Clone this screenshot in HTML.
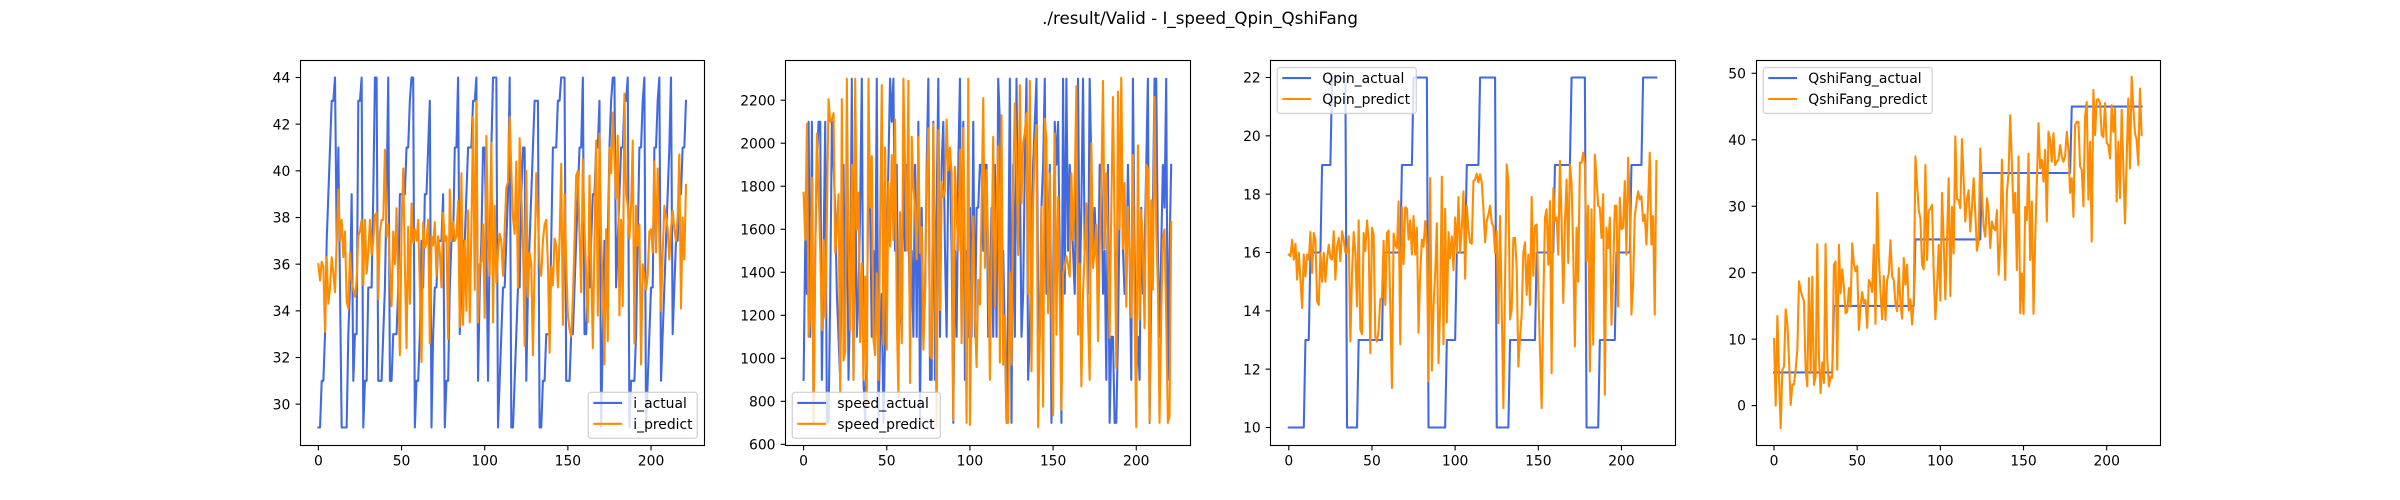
<!DOCTYPE html>
<html>
<head>
<meta charset="utf-8">
<title>./result/Valid - I_speed_Qpin_QshiFang</title>
<style>
html,body{margin:0;padding:0;background:#fff;}
svg{display:block;}
text{font-family:"DejaVu Sans","Liberation Sans",sans-serif;fill:#000;}
</style>
</head>
<body>
<svg id="figure" xmlns="http://www.w3.org/2000/svg" width="2400" height="500" viewBox="0 0 2400 500">
<rect x="0" y="0" width="2400" height="500" fill="#ffffff"/>
<text x="1200" y="24" font-size="16.67" text-anchor="middle">./result/Valid - I_speed_Qpin_QshiFang</text>
</svg>
<script>
const xTicks = [0, 50, 100, 150, 200];
const iTicks = [30, 32, 34, 36, 38, 40, 42, 44];
const speedTicks = [600, 800, 1000, 1200, 1400, 1600, 1800, 2000, 2200];
const qpinTicks = [10, 12, 14, 16, 18, 20, 22];
const qshiTicks = [0, 10, 20, 30, 40, 50];

const iActual = [
29,29,31,31,33,37,39,41,43,43,
44,37,41,35,29,29,29,29,33,35,
39,31,33,33,43,43,44,29,31,31,
35,35,35,39,44,44,31,31,31,33,
35,39,44,31,31,33,33,33,35,39,
39,39,39,41,41,43,44,44,29,31,
31,33,37,35,39,39,41,43,29,33,
35,35,37,37,37,39,29,31,31,35,
37,37,41,41,44,33,35,37,37,39,
41,41,41,43,43,44,31,35,37,41,
41,37,31,37,41,44,44,44,29,31,
33,35,35,37,39,44,29,29,31,33,
35,35,39,41,41,31,35,37,39,41,
43,43,43,29,29,31,31,33,33,33,
37,41,41,41,43,43,44,44,44,31,
31,31,33,33,35,37,39,41,41,44,
33,33,35,35,37,39,39,41,41,43,
29,33,37,35,37,41,43,44,44,35,
37,39,41,41,43,43,44,29,31,31,
31,33,37,41,41,43,44,29,31,33,
35,35,41,41,43,44,31,33,35,37,
39,41,44,33,35,37,37,39,39,41,
41,43];
const iPredict = [
36,35.3,36.1,35.9,33.1,36.3,34.3,35,36.3,35.6,
34.8,37,39.2,37,37.9,36.3,37.4,34.4,34.1,36.5,
35.3,34.9,34.6,35.3,37.2,37.4,37.9,35.1,37.9,35.6,
36.5,37.9,36.4,37,38.1,38.2,34.5,37.4,37.9,37.9,
40.9,37.2,37.7,35.8,34.2,37.4,36,38.4,35,32.1,
37.5,40.1,36,32.4,37.6,34.3,38.6,36.9,37.5,37,
37.9,35,31.8,37.8,36.7,36.9,37.9,32.6,37.2,36.8,
37.8,35.5,37.2,36.5,35,38.2,37,37.2,32.8,39.2,
37,37.8,37,37.2,38.7,33.3,39.9,33.4,37,34,
38.3,33.5,37.5,42.3,34.9,43,33.5,36,36.1,37.7,
33.7,41.5,37.5,35.5,41.2,33.5,38.5,35.2,36.5,37.3,
37,35.5,37.5,39.3,39.5,42.3,40,38,37.3,40.4,
35,41.4,39,37,32.5,40,34.6,36.5,36,32.1,
36,39.9,38,36,35.5,37,37.7,37.9,36,32.2,
35.9,35.1,37.1,36.8,35,37,40.3,33.4,39,36,
33.8,33.2,32.9,34.5,37,39.8,40,37.3,34.8,40.5,
37.5,35.5,33.5,39.8,36,32.4,37,41.3,33.8,41.6,
37,35,31.7,37.5,32.7,41,39.9,42.5,40.5,38.8,
41.5,33.8,37.9,34.2,43.3,39,38.5,37.1,38.5,41.3,
32.6,38.5,36.8,37.7,31.7,36,35.5,34.9,35.5,37.4,
37.5,36.5,40.4,36.5,40.1,37,34,36.5,38.5,38,
37.5,36.2,37.5,38.3,37.5,37,38,40.7,34.1,38,
36.2,39.4];

const speedActual = [
900,1550,1300,2100,1100,2100,700,1500,1900,2100,
2100,900,1500,2100,700,700,1300,2100,1900,1700,
1300,1100,900,1500,1900,1100,1900,900,1300,2300,
900,1900,1100,1300,1700,2300,900,700,1100,1900,
1700,1100,1500,1100,2300,700,1100,1300,700,1100,
1500,1900,2300,2100,2300,1500,1900,1100,1300,1100,
1900,1500,1900,1700,1100,1500,1100,1900,1100,2100,
700,1700,1100,1300,1900,2300,900,900,2100,900,
1700,2300,1100,1900,2100,1500,1100,1900,1900,1500,
700,1500,1100,1900,2300,1100,2100,900,1500,1100,
1700,1100,2100,1100,1700,1700,1900,1900,1500,1900,
1900,1100,1300,1700,1100,1900,1100,2300,2100,1500,
1500,1100,700,1300,2300,700,1900,1100,2300,1500,
1900,1100,1300,1900,2300,900,1100,1500,1900,2100,
2300,1300,1100,1700,1900,2300,1300,1500,1900,700,
1300,2100,1900,2100,1500,700,2300,1300,2300,1500,
1900,1700,1500,1300,1900,2300,1300,1700,2300,1500,
1700,1300,2300,1900,1500,1700,1500,1300,1900,1900,
1300,1500,900,1900,700,1100,1100,700,700,1100,
1700,2100,1500,1300,1300,1900,1500,900,2300,1500,
900,1100,900,1700,1300,1500,1900,2300,700,1300,
1700,2300,2300,1500,1100,1500,1900,1700,2300,900,
1500,1900];
const speedPredict = [
1770,1550,2090,1100,1200,1840,713,1500,2045,1800,
1500,1130,1550,1190,1650,2205,2100,2110,2140,1490,
1600,1763,840,2205,990,1030,2300,1500,1130,1900,
900,2300,1600,1770,1075,1440,900,1380,780,2300,
1700,1940,1085,1015,1395,900,1600,2270,1065,1980,
1040,1820,1520,1945,1550,2110,1200,820,1680,1070,
2300,1890,1500,2290,885,2030,1800,1700,1460,2030,
1490,1610,1040,1300,1800,2070,1015,1000,2090,1400,
680,2060,1225,1820,1750,1780,2110,1875,1980,1860,
713,1890,1670,1500,1970,1070,2070,1500,700,2300,
690,1300,1660,1200,960,1365,1250,1700,2210,1420,
1875,1500,900,1500,2030,1240,1700,1985,980,2130,
970,1200,700,700,1400,970,1800,2185,1900,1480,
2270,1720,2000,2050,2140,1300,2290,940,1705,1985,
2085,680,1100,1705,775,2115,2015,1210,1860,1300,
735,2045,1110,1750,1300,760,1395,1430,1475,1430,
1380,1860,1550,1800,2265,1110,1440,870,1300,1500,
1720,1200,900,2000,1420,1500,1620,1080,1500,1800,
2290,1510,1860,1500,1095,1700,2215,1600,955,2240,
1600,2305,1510,1815,1240,1705,1500,1190,1945,1200,
680,1990,1180,1690,1500,1140,1900,1880,705,1735,
1320,2215,1600,1320,700,1200,1550,1600,1200,700,
730,1635];

const qpinActual = [
10,10,10,10,10,10,10,10,10,10,
13,13,13,16,16,16,16,16,16,16,
19,19,19,19,19,19,22,22,22,22,
22,22,22,22,22,10,10,10,10,10,
10,10,13,13,13,13,13,13,13,13,
13,13,13,13,13,13,13,16,16,16,
16,16,16,16,16,16,16,16,19,19,
19,19,19,19,19,22,22,22,22,22,
22,22,22,22,10,10,10,10,10,10,
10,10,10,10,10,13,13,13,13,13,
13,16,16,16,16,16,16,19,19,19,
19,19,19,19,19,22,22,22,22,22,
22,22,22,22,22,10,10,10,10,10,
10,10,10,13,13,13,13,13,13,13,
13,13,13,13,13,13,13,13,13,16,
16,16,16,16,16,16,16,16,16,16,
19,19,19,19,19,19,19,19,19,19,
22,22,22,22,22,22,22,22,22,10,
10,10,10,10,10,10,10,13,13,13,
13,13,13,13,13,13,13,16,16,16,
16,16,16,16,16,16,19,19,19,19,
19,19,19,22,22,22,22,22,22,22,
22,22];
const qpinPredict = [
15.93,15.87,16.44,15.76,16.3,15.07,15.99,15.07,14.1,15.93,
15.18,15.93,15.76,16.7,15.3,16.67,16.44,14.33,14.2,15.99,
15,15.99,15,15.76,16.27,15.81,15.76,16.73,15.07,16.2,
16.5,15.7,16.73,16.44,15.99,15.99,16.55,12.95,15.3,16.7,
15.99,14.15,17.1,13.35,13.2,16.67,16.05,17.1,16.44,12.55,
16.85,16.6,13.1,12.95,13.35,14.4,14.45,16.4,14.2,16.67,
16.75,14.15,11.35,16.65,16.27,16.15,17.75,12.85,17.55,15.6,
17.55,17.5,16.44,17.1,15.93,17.25,15.93,16.85,13.25,15.3,
16.44,16.2,17.08,16.27,11.6,18.55,11.95,14.15,15.3,17,
12.2,14.15,18.6,12.85,17.5,13.6,16.7,15.8,16.55,15.4,
17.2,15.99,17.9,15.99,16.85,18.1,15.1,17.6,16.8,16.35,
16.3,18.45,18.5,18.7,18.4,18.68,18.4,17.5,16.35,17.08,
17.3,17.6,17.02,16.9,16,16.73,13.58,17.25,14.15,10.66,
15,19.02,18.4,13.7,14.04,16.5,16.5,15.5,12.09,13.1,
13.87,15.99,16.35,14.55,15.93,14.2,17.9,15.2,16.9,16.96,
14.73,12.66,10.66,14.27,17.2,17.48,15.58,17.76,11.86,18.2,
17.08,17.2,15.93,19.14,17.08,14.27,17.02,18.5,15.64,19.02,
18.4,15.99,12.78,16.85,15,19.08,19.08,19.42,19.02,15.7,
17.6,11.92,17.48,12.84,19.36,18.5,17.6,17.54,16.5,18,
11.12,16.85,16.15,17.2,13.52,15.3,17.6,17.6,14.15,17.88,
16.8,16.85,18.45,15.93,19.25,17.6,13.87,14.96,17.25,17.7,
18.1,17.82,17.93,17.08,17.3,16.27,17.7,19.42,16.27,17.25,
13.87,19.14];

const qshiActual = [
5,5,5,5,5,5,5,5,5,5,
5,5,5,5,5,5,5,5,5,5,
5,5,5,5,5,5,5,5,5,5,
5,5,5,5,5,5,15,15,15,15,
15,15,15,15,15,15,15,15,15,15,
15,15,15,15,15,15,15,15,15,15,
15,15,15,15,15,15,15,15,15,15,
15,15,15,15,15,15,15,15,15,15,
15,15,15,15,15,25,25,25,25,25,
25,25,25,25,25,25,25,25,25,25,
25,25,25,25,25,25,25,25,25,25,
25,25,25,25,25,25,25,25,25,25,
25,25,25,25,25,35,35,35,35,35,
35,35,35,35,35,35,35,35,35,35,
35,35,35,35,35,35,35,35,35,35,
35,35,35,35,35,35,35,35,35,35,
35,35,35,35,35,35,35,35,35,35,
35,35,35,35,35,35,35,35,35,45,
45,45,45,45,45,45,45,45,45,45,
45,45,45,45,45,45,45,45,45,45,
45,45,45,45,45,45,45,45,45,45,
45,45,45,45,45,45,45,45,45,45,
45,45];
const qshiPredict = [
10,0,13.5,4.4,-3.4,5.4,5.9,14.5,12.4,6.9,
0.1,3.2,3.2,5.4,8.4,18.7,17.4,16.4,15.7,5.4,
2.9,19.2,4.9,19.4,3.1,4.4,24.3,7.4,1.9,6.5,
3.4,24.3,6.9,2.9,4.4,4.2,21.2,21.7,5.4,24.2,
16.9,20.5,17.9,13.9,14.1,17.7,14.9,24.4,21.4,20.2,
21,11.4,14.9,17.1,15.4,15.9,11.7,18.9,18.4,17.1,
24.2,12.3,32,22.4,17.1,13,19.5,12.9,18.9,19.9,
24.9,19.4,18.9,15.4,14.2,20.7,15.4,13.1,22.2,18.2,
21.2,14.3,16,12.2,16,37.5,33.4,29.4,28.2,21.2,
20.5,36.2,21.9,29.3,29.6,30.2,19.9,13,17.7,24.2,
15.8,32,24.9,16,24.9,34.2,16.5,29.9,22.9,40.5,
31.05,30.95,29.7,40.1,34,27.7,31,32.4,26.2,29.95,
34.2,29,23.3,24.9,38.7,32,26.9,25.4,31.2,29.4,
23.7,27.7,26.7,26.4,29.4,19.7,24.9,37,27.4,18.9,
32,35,43.7,36.5,29,32,20.4,37.5,13.9,19.9,
13.8,29.9,27.9,37.9,21.9,30.7,13.8,24.9,33.5,42.5,
35.7,37,33.7,38.5,27.7,41.2,40,36.7,41,36.2,
36.7,37,39.2,37.5,36.7,37.5,41.2,38.5,32,34.2,
28.4,42.2,42.7,42.7,36,35.5,30,43.5,45.7,31,
39.7,24.7,47.5,40.7,46,46.1,45.5,40.7,40.4,45.5,
39.5,39.2,37.2,45.2,41.2,44.7,30.7,39.7,31.2,44.5,
36,27.4,37,46.2,35.7,49.5,45,41,40,36.2,
47.7,40.7];

const panelNames = ["i", "speed", "qpin", "qshifang"];
const actualSeries = [iActual, speedActual, qpinActual, qshiActual];
const predictSeries = [iPredict, speedPredict, qpinPredict, qshiPredict];
const yTickSets = [iTicks, speedTicks, qpinTicks, qshiTicks];
const actualLabels = ["i_actual", "speed_actual", "Qpin_actual", "QshiFang_actual"];
const predictLabels = ["i_predict", "speed_predict", "Qpin_predict", "QshiFang_predict"];
const yLower = [28.25, 597, 9.4, -5.92];
const yUpper = [44.75, 2387, 22.6, 52];

const NS = "http://www.w3.org/2000/svg";
const svg = document.getElementById("figure");
const AX_TOP = 60, AX_BOTTOM = 445, AX_W = 1860 / 4.6;
const BLUE = "#4169e1", ORANGE = "#ff8c00";
const legendBoxes = [
  {x: 588.3, y: 392.3, w: 109, h: 46},
  {x: 792.3, y: 392.3, w: 148, h: 46},
  {x: 1277.3, y: 67.5, w: 139, h: 46},
  {x: 1763.3, y: 67.5, w: 169, h: 46}
];

function make(tag, attrs, parent) {
  const el = document.createElementNS(NS, tag);
  for (const k in attrs) el.setAttribute(k, attrs[k]);
  parent.appendChild(el);
  return el;
}
function axLeft(p) { return 300 + p * AX_W * 1.2; }
function xScale(p, v) {
  const n = actualSeries[p].length - 1;
  const lo = -0.05 * n, hi = 1.05 * n;
  return axLeft(p) + (v - lo) / (hi - lo) * AX_W;
}
function yScale(p, v) {
  return AX_BOTTOM - (v - yLower[p]) / (yUpper[p] - yLower[p]) * (AX_BOTTOM - AX_TOP);
}
function linePoints(p, values) {
  return values.map(function (v, i) {
    return xScale(p, i).toFixed(2) + "," + yScale(p, v).toFixed(2);
  }).join(" ");
}

panelNames.forEach(function (name, p) {
  const group = make("g", {}, svg);
  
  

  const L = axLeft(p), R = L + AX_W;
  const snapL = Math.round(L) + 0.5, snapR = Math.round(R) + 0.5;

  const blue = make("polyline", {points: linePoints(p, actualSeries[p]), fill: "none", stroke: BLUE, "stroke-width": 2.08, "stroke-linejoin": "round", "stroke-linecap": "square"}, group);
  
  

  const orange = make("polyline", {points: linePoints(p, predictSeries[p]), fill: "none", stroke: ORANGE, "stroke-width": 2.08, "stroke-linejoin": "round", "stroke-linecap": "square"}, group);
  
  

  const frame = make("rect", {x: snapL, y: AX_TOP + 0.5, width: snapR - snapL, height: AX_BOTTOM - AX_TOP, fill: "none", stroke: "#000", "stroke-width": 1.11}, group);
  
  

  xTicks.forEach(function (t) {
    const x = xScale(p, t);
    const mark = make("line", {x1: x, x2: x, y1: AX_BOTTOM + 0.5, y2: AX_BOTTOM + 5.4, stroke: "#000", "stroke-width": 1.11}, group);
    
    
    const label = make("text", {x: x, y: AX_BOTTOM + 20.5, "font-size": 13.89, "text-anchor": "middle"}, group);
    
    
    label.textContent = String(t);
  });

  yTickSets[p].forEach(function (t) {
    const y = yScale(p, t);
    const mark = make("line", {x1: snapL - 4.9, x2: snapL, y1: y, y2: y, stroke: "#000", "stroke-width": 1.11}, group);
    
    
    const label = make("text", {x: L - 9.7, y: y + 5.1, "font-size": 13.89, "text-anchor": "end"}, group);
    
    
    label.textContent = String(t);
  });

  const box = legendBoxes[p];
  const legend = make("g", {}, group);
  
  

  const legendFrame = make("rect", {x: box.x, y: box.y, width: box.w, height: box.h, rx: 2.8, ry: 2.8, fill: "#ffffff", "fill-opacity": 0.8, stroke: "#cccccc", "stroke-opacity": 0.8, "stroke-width": 1.39}, legend);
  
  

  const handleX1 = box.x + 5, handleX2 = box.x + 33.8, textX = box.x + 45;
  const row1 = box.y + 10.6, row2 = box.y + 31.5;

  const swatch1 = make("line", {x1: handleX1, x2: handleX2, y1: row1, y2: row1, stroke: BLUE, "stroke-width": 2.08}, legend);
  
  

  const text1 = make("text", {x: textX, y: row1 + 5, "font-size": 13.89}, legend);
  
  
  text1.textContent = actualLabels[p];

  const swatch2 = make("line", {x1: handleX1, x2: handleX2, y1: row2, y2: row2, stroke: ORANGE, "stroke-width": 2.08}, legend);
  
  

  const text2 = make("text", {x: textX, y: row2 + 5, "font-size": 13.89}, legend);
  
  
  text2.textContent = predictLabels[p];
});
</script>
</body>
</html>
